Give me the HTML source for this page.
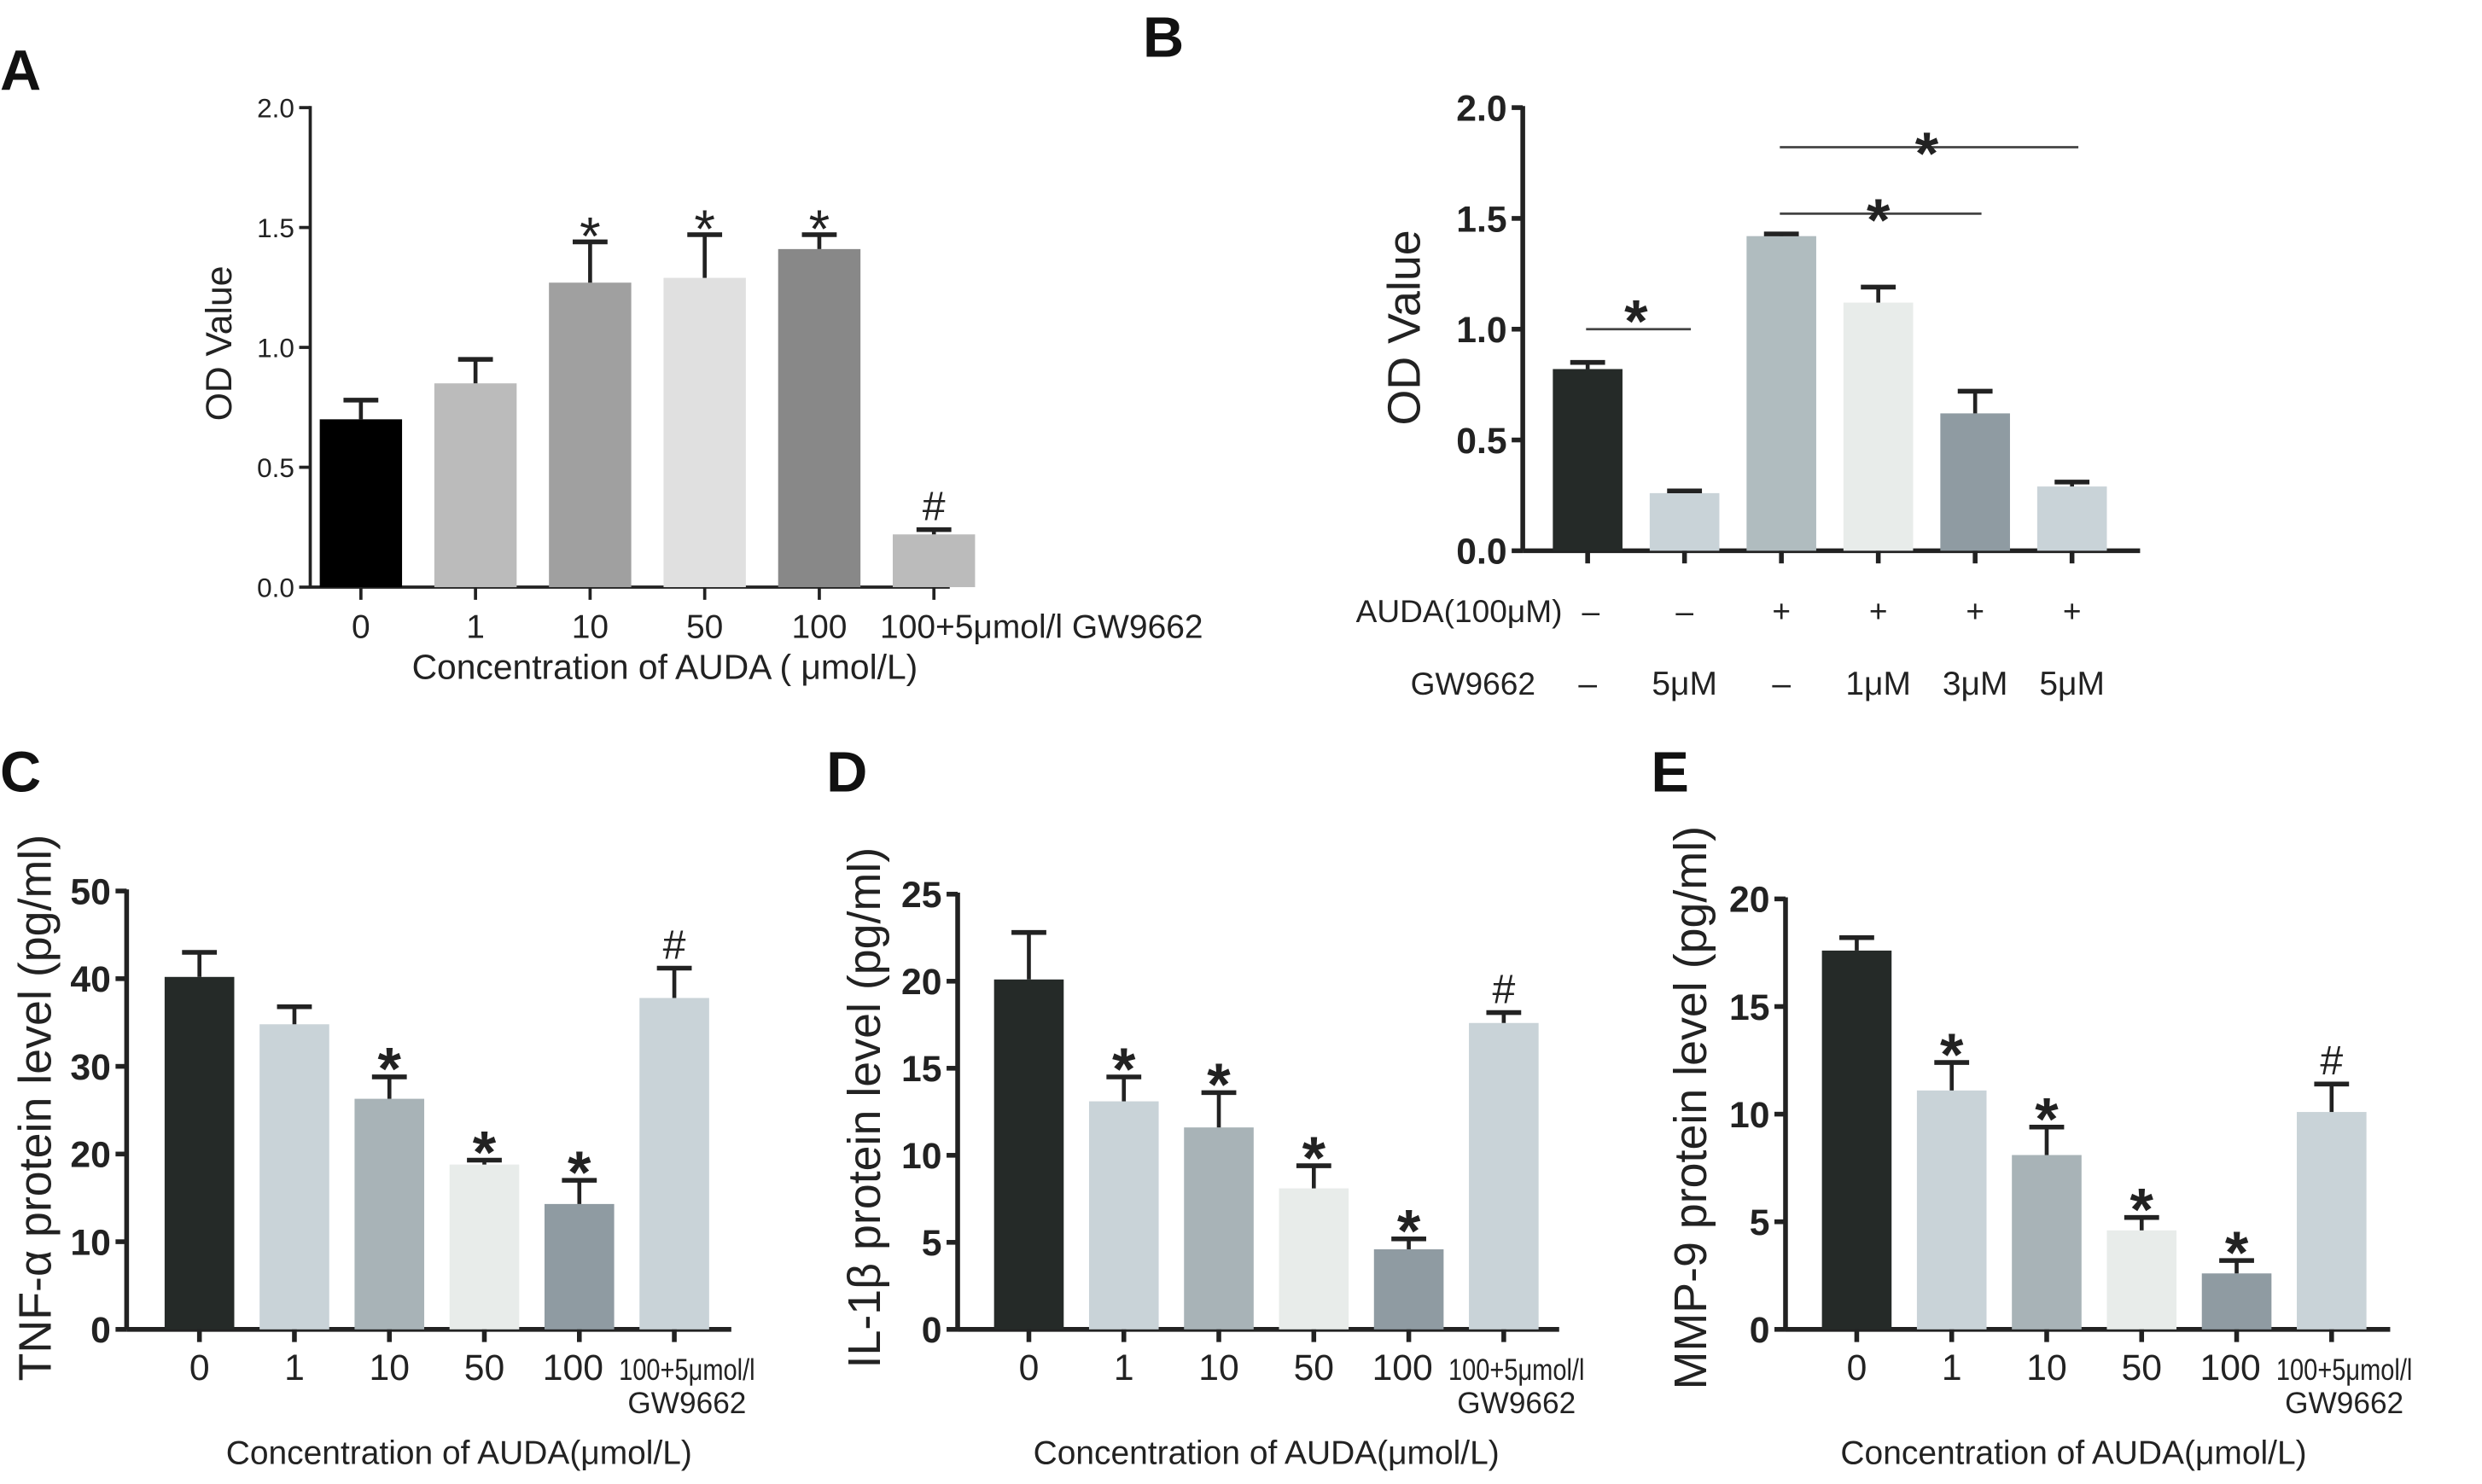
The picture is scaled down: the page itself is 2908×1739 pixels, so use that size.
<!DOCTYPE html>
<html><head><meta charset="utf-8"><style>
html,body{margin:0;padding:0;background:#fff}
svg{display:block}
text{font-family:"Liberation Sans",sans-serif}
</style></head><body>
<svg id="fig" width="2908" height="1739" viewBox="0 0 1568 937.7" preserveAspectRatio="none" xmlns="http://www.w3.org/2000/svg"></svg>
<script>
// Panel A
const catsA = ["0","1","10","50","100","100+5μmol/l GW9662"];
const valsA = [0.70,0.85,1.27,1.29,1.41,0.22];
const errA = [0.78,0.95,1.44,1.47,1.47,0.24];
const marksA = ["","","*","*","*","#"];
const ticksA = ["0.0","0.5","1.0","1.5","2.0"];
// Panel B
const catsB = ["1","2","3","4","5","6"];
const valsB = [0.82,0.26,1.42,1.12,0.62,0.29];
const errB = [0.85,0.27,1.43,1.19,0.72,0.31];
const audaB = ["–","–","+","+","+","+"];
const gwB = ["–","5μM","–","1μM","3μM","5μM"];
const ticksB = ["0.0","0.5","1.0","1.5","2.0"];
// Panel C
const catsC = ["0","1","10","50","100","100+5μmol/l|GW9662"];
const valsC = [40.2,34.8,26.3,18.8,14.3,37.8];
const errC = [43,36.8,28.8,19.3,17,41.2];
const marksC = ["","","*","*","*","#"];
const ticksC = ["0","10","20","30","40","50"];
// Panel D
const valsD = [20.1,13.1,11.6,8.1,4.6,17.6];
const errD = [22.8,14.5,13.6,9.4,5.2,18.2];
const marksD = ["","*","*","*","*","#"];
const ticksD = ["0","5","10","15","20","25"];
// Panel E
const valsE = [17.6,11.1,8.1,4.6,2.6,10.1];
const errE = [18.2,12.4,9.4,5.2,3.2,11.4];
const marksE = ["","*","*","*","*","#"];
const ticksE = ["0","5","10","15","20"];

const NS="http://www.w3.org/2000/svg";
const svg=document.getElementById('fig');
function mk(tag,attrs,parent,txt){const e=document.createElementNS(NS,tag);for(const k in attrs)e.setAttribute(k,attrs[k]);if(txt!==undefined)e.textContent=txt;(parent||svg).appendChild(e);return e;}

function panel(o){
  const g=mk('g',{});
  
  
  const ymax=parseFloat(o.ticks[o.ticks.length-1]);
  const y=v=>o.y0-(v/ymax)*(o.y0-o.y1);
  const x=i=>o.x0+i*o.step;
  const ax=mk('line',{x1:o.ax,y1:o.y1-1,x2:o.ax,y2:o.y0,stroke:'#222','stroke-width':o.aw},g);
  
  
  const xa=mk('line',{x1:o.ax,y1:o.y0,x2:o.xend,y2:o.y0,stroke:'#222','stroke-width':o.aw},g);
  
  
  o.ticks.forEach(t=>{const v=parseFloat(t);
    mk('line',{x1:o.ax-7,y1:y(v),x2:o.ax,y2:y(v),stroke:'#222','stroke-width':o.aw},g);
    const tl=mk('text',{x:o.ax-10,y:y(v)+o.tfs*0.36,'text-anchor':'end','font-size':o.tfs,'font-weight':o.tbold?'bold':'normal',fill:'#222'},g,t);
    
    
  });
  o.vals.forEach((v,i)=>{
    const cx=x(i);
    const b=mk('rect',{x:cx-o.bw/2,y:y(v),width:o.bw,height:o.y0-y(v),fill:o.colors[i]},g);
    
    
    mk('line',{x1:cx,y1:y(v),x2:cx,y2:y(o.err[i]),stroke:'#222','stroke-width':2.5},g);
    mk('line',{x1:cx-11,y1:y(o.err[i]),x2:cx+11,y2:y(o.err[i]),stroke:'#222','stroke-width':3},g);
    mk('line',{x1:cx,y1:o.y0,x2:cx,y2:o.y0+8,stroke:'#222','stroke-width':o.aw},g);
    if(o.marks&&o.marks[i]){
      const star=o.marks[i]=='*';
      const m=mk('text',{x:cx,y:y(o.err[i])-(star?-8:6),'text-anchor':'middle','font-size':star?(o.starfs||38):26,'font-weight':star&&o.starbold!==false?'bold':'normal',fill:'#222'},g,o.marks[i]);
      
      
    }
    if(o.cats){
      const parts=o.cats[i].split('|');
      parts.forEach((p,j)=>{
        const t=mk('text',{x:cx+(i==5?8:0)+(i==4?-4:0),y:o.caty+j*21,'text-anchor':'middle','font-size':parts.length>1?o.cfs2:o.cfs,fill:'#222','textLength':parts.length>1&&j==0?84:undefined},g,p);
        if(parts.length>1&&j==0){t.setAttribute('textLength','86');t.setAttribute('lengthAdjust','spacingAndGlyphs');}
        else t.removeAttribute('textLength');
        
        
      });
    }
  });
  const yt=mk('text',{x:o.ytx,y:o.yty,'text-anchor':'middle','font-size':o.ytfs,fill:'#222',transform:`rotate(-90 ${o.ytx} ${o.yty})`},g,o.ytitle);
  
  
  if(o.xtitle){
    const xt=mk('text',{x:o.xtx,y:o.xty,'text-anchor':'middle','font-size':o.xtfs,fill:'#222'},g,o.xtitle);
    
    
  }
  const L=mk('text',{x:o.lx,y:o.ly,'font-size':36,'font-weight':'bold',fill:'#111'},g,o.letter);
  
  
  return {g,x,y};
}

panel({name:'panel-a',vals:valsA,err:errA,marks:marksA,ticks:ticksA,cats:null,
  ax:196,xend:600,y0:371,y1:68,x0:228,step:72.4,bw:52,aw:2,tfs:17,tbold:false,starfs:34,starbold:false,
  colors:['#000','#bbb','#a0a0a0','#e0e0e0','#888','#bbb'],
  ytitle:'OD Value',ytx:146,yty:217,ytfs:23,xtitle:'Concentration of AUDA ( μmol/L)',xtx:420,xty:429,xtfs:22,lx:0,ly:57,letter:'A'});
catsA.forEach((c,i)=>{const t=mk('text',{x:i==5?658:228+i*72.4,y:403,'text-anchor':'middle','font-size':21,fill:'#222'},svg,c);
  
  });

const B=panel({name:'panel-b',vals:valsB,err:errB,ticks:ticksB,cats:null,
  ax:962,xend:1352,y0:348,y1:68,x0:1003,step:61.2,bw:44,aw:3,tfs:23,tbold:true,
  colors:['#252a28','#c9d3d8','#b0bcbf','#e8ecea','#8f9ba2','#c9d3d8'],
  ytitle:'OD Value',ytx:897,yty:207,ytfs:29,lx:722,ly:36,letter:'B'});
[[0,1,208,200],[2,4,135,136],[2,5,93,94]].forEach(s=>{
  const l=mk('line',{x1:B.x(s[0])-1,y1:s[2],x2:B.x(s[1])+4,y2:s[2],stroke:'#444','stroke-width':1.5});
  
  
  const t=mk('text',{x:(B.x(s[0])+B.x(s[1]))/2,y:s[3]+16,'text-anchor':'middle','font-size':38,'font-weight':'bold',fill:'#222'},svg,'*');
  
  
});
let t1=mk('text',{x:987,y:393,'text-anchor':'end','font-size':20,fill:'#222'},svg,'AUDA(100μM)');

let t2=mk('text',{x:970,y:439,'text-anchor':'end','font-size':20,fill:'#222'},svg,'GW9662');

audaB.forEach((a,i)=>{const t=mk('text',{x:B.x(i)+(i==0?2:0),y:393,'text-anchor':'middle','font-size':20,fill:'#222'},svg,a);
  });
gwB.forEach((a,i)=>{const t=mk('text',{x:B.x(i),y:439,'text-anchor':'middle','font-size':21,fill:'#222'},svg,a);
  });

const cols=['#252a28','#c9d3d8','#a8b3b7','#e8ecea','#8f9ba2','#c9d3d8'];
const common={cats:catsC,bw:44,aw:3,tfs:23,tbold:true,colors:cols,caty:872,cfs:23,cfs2:19,ytfs:29,xtfs:21,xty:925,step:60,y0:840};
panel(Object.assign({},common,{name:'panel-c',vals:valsC,err:errC,marks:marksC,ticks:ticksC,ax:80,xend:462,y1:563,x0:126,
  ytitle:'TNF-α protein level  (pg/ml)',ytx:32,yty:700,xtitle:'Concentration of AUDA(μmol/L)',xtx:290,lx:0,ly:500,letter:'C'}));
panel(Object.assign({},common,{name:'panel-d',vals:valsD,err:errD,marks:marksD,ticks:ticksD,ax:605,xend:985,y1:565,x0:650,
  ytitle:'IL-1β protein level  (pg/ml)',ytx:556,yty:700,xtitle:'Concentration of AUDA(μmol/L)',xtx:800,lx:522,ly:500,letter:'D'}));
panel(Object.assign({},common,{name:'panel-e',vals:valsE,err:errE,marks:marksE,ticks:ticksE,ax:1128,xend:1510,y1:568,x0:1173,
  ytitle:'MMP-9 protein level  (pg/ml)',ytx:1078,yty:700,xtitle:'Concentration of AUDA(μmol/L)',xtx:1310,lx:1043,ly:500,letter:'E'}));
</script>
</body></html>
